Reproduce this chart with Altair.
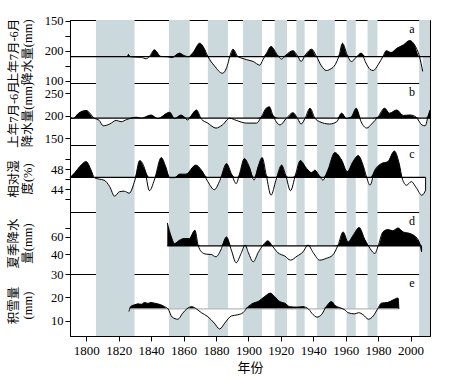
import altair as alt
import pandas as pd

# ---------------- data ----------------
BAND_START = [1806, 1851, 1875, 1896.7, 1916.2, 1929.6, 1942.3, 1960.5, 1973.5, 2005.3]
BAND_END = [1829.8, 1863.8, 1887.4, 1908.4, 1923.8, 1934.7, 1953.3, 1966.2, 1979.6, 2012]

YEARS_A = [1825.5, 1826, 1827, 1830, 1834, 1837, 1839, 1842, 1846, 1850, 1853, 1857.5, 1860, 1863,
           1866, 1870, 1873, 1875, 1879, 1884, 1887, 1888.5, 1890.5, 1893.5, 1896, 1899, 1903, 1907,
           1909, 1911, 1914, 1918, 1920.5, 1923, 1927.5, 1930.5, 1932.5, 1935, 1939, 1942, 1945, 1948,
           1951, 1953.5, 1956, 1958, 1961, 1963.5, 1966.5, 1969.5, 1972.5, 1975, 1977, 1980, 1983,
           1985, 1988, 1991.5, 1995.5, 1999.5, 2002.5, 2005.5, 2007.5]
VALUES_A = [180.6, 188, 180, 179, 178, 173, 181, 203, 181, 180, 177, 192, 185, 180,
            195, 225, 205, 181, 150, 125, 150, 180, 205, 181, 175, 170, 164, 152,
            170, 190, 214, 185, 172, 185, 200, 181, 164, 185, 205, 181, 150, 134,
            140, 153, 185, 225, 185, 164, 178, 192, 159, 138, 134, 153, 181,
            200, 194, 208, 219, 234, 219, 181, 131]
BASE_A = 180.6

YEARS_B = [1790, 1792, 1795, 1800, 1805, 1808, 1810.5, 1814.5, 1818.5, 1821.5, 1825, 1831, 1834,
           1840, 1844, 1851.5, 1854.5, 1858.5, 1862.5, 1868, 1871, 1875, 1880, 1884, 1888.5,
           1892.5, 1899, 1905, 1908, 1911, 1913, 1915, 1919.5, 1923.5, 1927.5, 1930.5, 1932.5,
           1935, 1938, 1941, 1944, 1950, 1954.5, 1957.5, 1960.5, 1963.5, 1966.5, 1969.5, 1973,
           1976, 1980, 1984, 1987, 1991.5, 1995.5, 1999.5, 2003.5, 2007, 2009, 2011, 2012]
VALUES_B = [198, 194, 205, 212, 195, 190, 178, 182, 190, 187, 192, 197, 195,
            202, 194, 208, 194, 202, 191, 213, 193, 184, 173, 180, 195,
            190, 184, 184, 198, 217, 220, 202, 180, 195, 207, 193, 182,
            195, 217, 195, 187, 182, 187, 206, 194, 198, 217, 187, 173,
            182, 198, 217, 206, 213, 201, 202, 197, 180, 178, 202, 213]
BASE_B = 194.9

YEARS_C = [1790, 1793, 1796, 1800, 1803, 1805, 1808, 1811, 1814.5, 1817.5, 1820.5, 1823.5, 1826.5,
           1830, 1833, 1836, 1839, 1842, 1846.3, 1849, 1851.5, 1854.5, 1857.5, 1861.5, 1867.5, 1871,
           1875, 1879, 1882.5, 1886.5, 1889.5, 1892.5, 1894.5, 1897.5, 1900.5, 1903.5, 1906, 1908.5,
           1911, 1914, 1917, 1920.5, 1923, 1926, 1929, 1932, 1936, 1939, 1941, 1943.5, 1946, 1949,
           1953.3, 1957.5, 1961, 1964.5, 1967.7, 1971, 1973, 1975, 1978, 1982, 1986, 1990, 1993,
           1995, 1997.5, 2000.5, 2003.5, 2007, 2009.3]
VALUES_C = [46.3, 47.3, 48.5, 49.5, 47.8, 46.3, 46.0, 45.8, 44.5, 42.6, 43.5, 43.6, 43.2,
            45.8, 49.7, 48.1, 43.7, 45.8, 50.3, 48.5, 46.3, 46.3, 47.0, 47.0, 48.8, 47.8,
            45.5, 43.9, 45.8, 49.1, 47.1, 45.1, 47.0, 50.1, 48.5, 45.8, 48.5, 50.3,
            46.8, 42.8, 45.8, 48.8, 46.8, 43.7, 46.8, 49.7, 48.1, 47.3, 47.8, 46.8, 45.8, 47.8,
            51.3, 49.8, 47.5, 49.5, 50.7, 48.5, 46.3, 44.8, 47.8, 49.1, 49.5, 51.6, 49.1,
            46.0, 44.8, 45.5, 44.3, 42.8, 43.8]
BASE_C = 46.34

YEARS_D = [1850, 1852.5, 1854.5, 1857.5, 1860.5, 1863.5, 1867, 1869, 1871, 1874, 1877, 1880, 1883,
           1886.5, 1889.5, 1892.5, 1895.5, 1898, 1900, 1903, 1906, 1909, 1912, 1915, 1918.3, 1922.5,
           1926, 1930, 1933.7, 1936.8, 1940, 1944, 1948, 1952, 1955.3, 1958.4, 1961.5, 1964.6,
           1968.3, 1971.8, 1975, 1978, 1980, 1983, 1986, 1989, 1992.3, 1995.4, 1999.6, 2002.7,
           2005.3, 2006.8]
VALUES_D = [75.9, 60.0, 52.5, 56.2, 58.2, 58.0, 67.6, 50.6, 43.0, 40.3, 40.0, 37.3, 45.0,
            60.0, 44.9, 30.5, 41.1, 50.6, 42.0, 31.6, 42.0, 50.6, 55.5, 49.0, 41.8, 38.1,
            33.5, 38.0, 43.0, 50.6, 42.0, 33.5, 35.5, 39.2, 50.6, 65.7, 54.3, 61.9,
            70.7, 57.0, 46.8, 41.1, 49.7, 65.7, 68.4, 67.0, 70.2, 65.7, 63.9, 60.8,
            54.3, 43.0]
BASE_D = 49.7

YEARS_E = [1826.3, 1827.8, 1830, 1832, 1834, 1836, 1838, 1840, 1842, 1844, 1846, 1848.3, 1850.5,
           1853, 1856.5, 1859.5, 1862, 1865, 1868, 1871, 1875, 1879, 1882.3, 1885.4, 1889.5,
           1893.5, 1896.7, 1899.8, 1903, 1906, 1910, 1913.6, 1916.2, 1919.3, 1922.4, 1925.5,
           1929.6, 1933.7, 1937, 1940, 1942.3, 1945, 1948, 1951.2, 1953.5, 1956.5, 1959.5, 1961.5,
           1965.6, 1968, 1970.8, 1974, 1977, 1979.6, 1982, 1986, 1989.3, 1992.3, 1992.8]
VALUES_E = [13.9, 16.3, 16.8, 17.2, 17.0, 17.8, 17.4, 17.8, 17.5, 17.2, 16.8, 16.0, 15.0,
            11.5, 10.6, 13.2, 15.0, 16.0, 15.0, 13.4, 11.7, 8.9, 6.4, 8.9, 12.0,
            12.5, 13.4, 16.0, 17.5, 18.2, 20.3, 21.8, 20.3, 18.2, 17.5, 16.0,
            15.8, 16.0, 15.0, 12.5, 11.5, 12.5, 16.0, 18.2, 16.5, 15.5, 14.6, 13.4,
            12.9, 13.4, 12.5, 10.6, 12.0, 14.9, 17.5, 17.8, 18.9, 19.7, 15.0]
BASE_E = 15.0

X_TICKS = [1800, 1820, 1840, 1860, 1880, 1900, 1920, 1940, 1960, 1980, 2000]

SERIF = "'Liberation Serif', 'Times New Roman', 'Noto Sans CJK SC', serif"
CJK = "'Liberation Serif', 'Noto Sans CJK SC', serif"
BAND_COLOR = "#ccd9dc"
W = 360

xscale = alt.Scale(domain=[1790, 2012], nice=False, zero=False)
bands_df = pd.DataFrame({"s": BAND_START, "e": BAND_END})


def panel(years, vals, base, b_start, b_end, domain, ticks, label_expr, title, letter,
          height, base_color, show_x, close_end=False):
    df = pd.DataFrame({"year": years, "v": vals})
    base_df = pd.DataFrame({"s": [b_start], "e": [b_end], "b": [base]})
    if show_x:
        xaxis = alt.Axis(values=X_TICKS, format="d", title="年份", titleFont=CJK,
                         titleFontSize=13, titlePadding=4, labelFontSize=13, labelPadding=3)
    else:
        xaxis = None
    yaxis = alt.Axis(values=ticks, labelExpr=label_expr, title=title, labelFontSize=12.5,
                     titlePadding=6, minExtent=30, maxExtent=30)
    yscale = alt.Scale(domain=domain, nice=False, zero=False)

    bands = alt.Chart(bands_df).mark_rect(color=BAND_COLOR).encode(
        x=alt.X("s:Q", scale=xscale, axis=xaxis), x2="e:Q")
    base_chart = alt.Chart(df).transform_calculate(
        hi=f"max(datum.v, {base})", lo=f"min(datum.v, {base})", b=f"{base}")
    white = base_chart.mark_area(color="white", interpolate="monotone", opacity=1).encode(
        x=alt.X("year:Q", scale=xscale, axis=xaxis),
        y=alt.Y("lo:Q", scale=yscale, axis=yaxis), y2="b:Q")
    black = base_chart.mark_area(color="black", interpolate="monotone", opacity=1).encode(
        x=alt.X("year:Q", scale=xscale, axis=xaxis),
        y=alt.Y("hi:Q", scale=yscale, axis=yaxis), y2="b:Q")
    rule = alt.Chart(base_df).mark_rule(color=base_color, strokeWidth=1.2).encode(
        x=alt.X("s:Q", scale=xscale, axis=xaxis), x2="e:Q",
        y=alt.Y("b:Q", scale=yscale, axis=yaxis))
    line = base_chart.mark_line(color="black", strokeWidth=1, interpolate="monotone").encode(
        x=alt.X("year:Q", scale=xscale, axis=xaxis),
        y=alt.Y("v:Q", scale=yscale, axis=yaxis))
    txt = alt.Chart(pd.DataFrame({"t": [letter]})).mark_text(
        font=SERIF, fontSize=12, align="center", baseline="middle", color="black").encode(
        text="t:N", x=alt.value(342), y=alt.value(9))
    layers = [bands, white, black, rule, line]
    if close_end:
        end_df = pd.DataFrame({"x": [years[-1]], "v": [vals[-1]], "b": [base]})
        closer = alt.Chart(end_df).mark_rule(color="black", strokeWidth=1).encode(
            x=alt.X("x:Q", scale=xscale, axis=xaxis),
            y=alt.Y("v:Q", scale=yscale, axis=yaxis), y2="b:Q")
        layers.append(closer)
    layers.append(txt)
    return alt.layer(*layers).properties(width=W, height=height)


pa = panel(YEARS_A, VALUES_A, BASE_A, 1790, 2012, [92.4, 302.3], [100, 150, 200, 250, 300],
           "datum.value==300?'150':datum.value==200?'200':datum.value==100?'100':''",
           ["上年7月-6月", "降水量(mm)"], "a", 63, "black", False)
pb = panel(YEARS_B, VALUES_B, BASE_B, 1790, 2012, [135.6, 272.7], [150, 200, 250],
           "datum.label", ["上年7月-6月", "降水量(mm)"], "b", 62, "black", False)
pc = panel(YEARS_C, VALUES_C, BASE_C, 1790, 2009.3, [39.46, 52.8], [42, 44, 46, 48, 50],
           "datum.value==44||datum.value==48?datum.label:''", ["相对湿", "度(%)"], "c", 67,
           "black", False, close_end=True)
pd_ = panel(YEARS_D, VALUES_D, BASE_D, 1850, 2006.8, [17.7, 88.4], [40, 60, 70],
            "datum.value==70?'':datum.label", ["夏季降水", "量(mm)"], "d", 62, "black", False,
            close_end=True)
pe = panel(YEARS_E, VALUES_E, BASE_E, 1826.3, 1992.8, [3.4, 30.0], [10, 20, 30],
           "datum.label", ["积雪量", "(mm)"], "e", 62, "#b8b8b8", True)

chart = alt.vconcat(pa, pb, pc, pd_, pe, spacing=0, bounds="flush").properties(
    padding={"left": 6, "top": 14, "right": 5, "bottom": 5}
).configure_view(stroke="black", strokeWidth=1).configure_axis(
    domainColor="black", tickColor="black", labelColor="black", titleColor="black",
    labelFont=SERIF, titleFont=CJK, labelFontSize=13, titleFontSize=12.5,
    titleFontWeight="normal", tickSize=5, grid=False, labelPadding=2,
    titleLineHeight=14, domainWidth=1, tickWidth=1
).configure_concat(spacing=0)

chart.save("out.html", embed_options={"renderer": "svg", "actions": False})
